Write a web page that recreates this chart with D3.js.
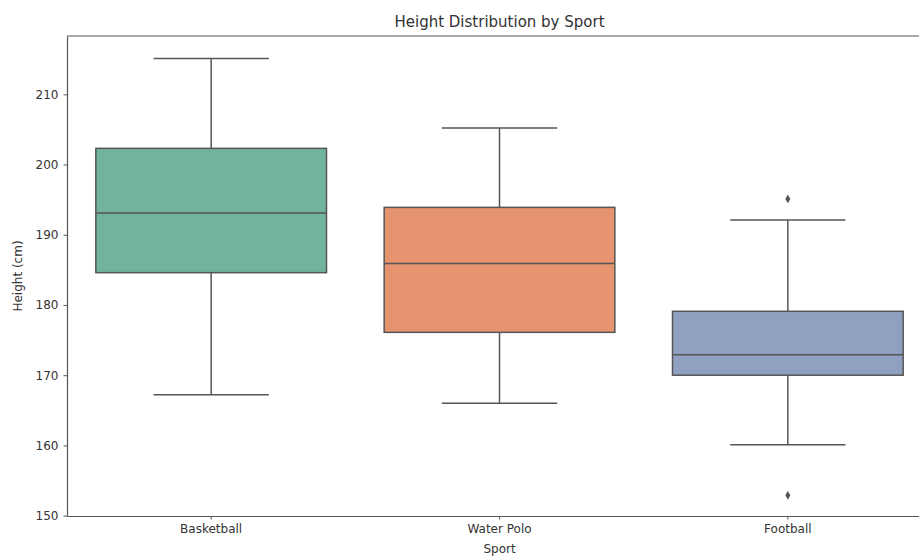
<!DOCTYPE html>
<html><head><meta charset="utf-8">
<script src="https://cdn.jsdelivr.net/npm/d3@7/dist/d3.min.js"></script>
<style>body{margin:0;background:#fff}svg{display:block}text{font-family:"DejaVu Sans",sans-serif;fill:#333}</style>
</head><body><svg id="c" width="919" height="557"></svg>
<script>
const sports = ["Basketball", "Water Polo", "Football"];
const whiskerLow = [167.2, 166.0, 160.1];
const q1 = [184.6, 176.1, 170.0];
const median = [193.1, 185.9, 172.9];
const q3 = [202.3, 193.9, 179.1];
const whiskerHigh = [215.1, 205.2, 192.1];
const outliers = [[], [], [195.1, 152.9]];
const colors = ["#72b39f", "#e6936f", "#8fa0c0"];
const yTicks = [150, 160, 170, 180, 190, 200, 210];

const svg = d3.select("#c");
const L = 67, R = 932, T = 36, B = 516;
const x = d3.scaleBand().domain(sports).range([L, R]).padding(0);
const y = d3.scaleLinear().domain([149.95, 218.3]).range([B, T]);
const stroke = "#555";

const g = svg.append("g");
const bw = x.bandwidth() * 0.8;
sports.forEach((s, i) => {
  const cx = x(s) + x.bandwidth() / 2;
  const bx = g.append("g");
  bx.append("line").attr("x1", cx).attr("x2", cx).attr("y1", y(q3[i])).attr("y2", y(whiskerHigh[i])).attr("stroke", stroke).attr("stroke-width", 1.5);
  bx.append("line").attr("x1", cx).attr("x2", cx).attr("y1", y(q1[i])).attr("y2", y(whiskerLow[i])).attr("stroke", stroke).attr("stroke-width", 1.5);
  [whiskerHigh[i], whiskerLow[i]].forEach(v => {
    bx.append("line").attr("x1", cx - bw / 4).attr("x2", cx + bw / 4).attr("y1", y(v)).attr("y2", y(v)).attr("stroke", stroke).attr("stroke-width", 1.5);
  });
  bx.append("rect").attr("x", cx - bw / 2).attr("width", bw).attr("y", y(q3[i])).attr("height", y(q1[i]) - y(q3[i]))
    .attr("fill", colors[i]).attr("stroke", stroke).attr("stroke-width", 1.5);
  bx.append("line").attr("x1", cx - bw / 2).attr("x2", cx + bw / 2).attr("y1", y(median[i])).attr("y2", y(median[i])).attr("stroke", stroke).attr("stroke-width", 1.5);
  outliers[i].forEach(v => {
    bx.append("path").attr("d", d3.symbol(d3.symbolDiamond, 22)()).attr("transform", `translate(${cx},${y(v)})`).attr("fill", "#555");
  });
});

// frame
svg.append("line").attr("x1", L).attr("x2", R).attr("y1", T).attr("y2", T).attr("stroke", "#555").attr("stroke-width", 1.2);
const ya = svg.append("g").attr("transform", `translate(${L},0)`)
  .call(d3.axisLeft(y).tickValues(yTicks).tickSize(3.5).tickSizeOuter(0).tickPadding(5));
const xa = svg.append("g").attr("transform", `translate(0,${B})`)
  .call(d3.axisBottom(x).tickSize(3.5).tickSizeOuter(0).tickPadding(5));
[ya, xa].forEach(a => {
  a.selectAll("path").attr("stroke", "#555").attr("stroke-width", 1.2);
  a.selectAll("line").attr("stroke", "#555");
  a.selectAll("text").attr("font-size", 12).attr("font-family", "DejaVu Sans").attr("fill", "#333");
});

svg.append("text").attr("x", (L + R) / 2).attr("y", 27).attr("text-anchor", "middle").attr("font-size", 15).text("Height Distribution by Sport");
svg.append("text").attr("x", (L + R) / 2).attr("y", 553).attr("text-anchor", "middle").attr("font-size", 12).text("Sport");
svg.append("text").attr("transform", `translate(22,${(T + B) / 2}) rotate(-90)`).attr("text-anchor", "middle").attr("font-size", 12).text("Height (cm)");
</script></body></html>
